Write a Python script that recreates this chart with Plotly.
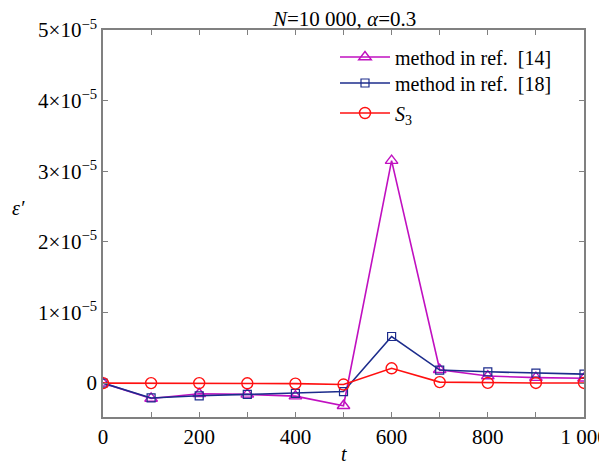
import plotly.graph_objects as go

t = [0, 100, 200, 300, 400, 500, 600, 700, 800, 900, 1000]
ref14 = [0.0, -0.217, -0.15, -0.16, -0.185, -0.32, 3.15, 0.19, 0.10, 0.077, 0.068]
ref18 = [0.0, -0.21, -0.18, -0.16, -0.145, -0.12, 0.66, 0.185, 0.16, 0.14, 0.127]
s3 = [0.0, 0.0, 0.0, -0.003, -0.008, -0.02, 0.21, 0.014, 0.003, 0.002, 0.002]
scale = 1e-5

x_tickvals = [0, 100, 200, 300, 400, 500, 600, 700, 800, 900, 1000]
x_ticktext = ["0", "", "200", "", "400", "", "600", "", "800", "", "1 000"]
y_tickvals = [0, 1e-5, 2e-5, 3e-5, 4e-5, 5e-5]
y_ticktext = ["0", "1×10<sup>−5</sup>", "2×10<sup>−5</sup>", "3×10<sup>−5</sup>",
              "4×10<sup>−5</sup>", "5×10<sup>−5</sup>"]

font = "Liberation Serif"

# page body has an 8px default margin; plot area targeted at screen x 103..584, y 30..417
PAD = 8
W, H = 607 - PAD, 464 - PAD
ML, MR, MT, MB = 103 - PAD, 23, 30 - PAD, 47
plot_w = W - ML - MR
plot_h = H - MT - MB


def px(sx):
    return (sx - 103) / plot_w


def py(sy):
    return (417 - sy) / plot_h


fig = go.Figure()
fig.add_trace(go.Scatter(x=t, y=[v * scale for v in ref14], mode="lines+markers",
                         name="method in ref.  [14]", legend="legend",
                         line=dict(color="#C010C0", width=1.6),
                         marker=dict(symbol="triangle-up-open", size=11, color="#C010C0",
                                     line=dict(width=1.4))))
fig.add_trace(go.Scatter(x=t, y=[v * scale for v in ref18], mode="lines+markers",
                         name="method in ref.  [18]", legend="legend2",
                         line=dict(color="#1C2C8C", width=1.6),
                         marker=dict(symbol="square-open", size=8, color="#1C2C8C",
                                     line=dict(width=1.2))))
fig.add_trace(go.Scatter(x=t, y=[v * scale for v in s3], mode="lines+markers",
                         name="<i>S</i><sub>3</sub>", legend="legend3",
                         line=dict(color="#FF1010", width=1.6),
                         marker=dict(symbol="circle-open", size=11, color="#FF1010",
                                     line=dict(width=1.4))))

axis_common = dict(showline=True, linecolor="#808080", linewidth=1.5, mirror="ticks",
                   ticks="inside", ticklen=5, tickcolor="#808080", showgrid=False,
                   zeroline=False, automargin=False, ticklabeloverflow="allow",
                   tickfont=dict(family=font, size=21, color="black"))
fig.update_xaxes(range=[0, 1000], tickvals=x_tickvals, ticktext=x_ticktext, **axis_common)
fig.update_yaxes(range=[-0.48e-5, 5e-5], tickvals=y_tickvals, ticktext=y_ticktext, **axis_common)

leg_common = dict(xanchor="left", yanchor="middle", bgcolor="rgba(0,0,0,0)",
                  itemwidth=50, font=dict(family=font, size=20))

fig.update_layout(
    width=W, height=H,
    margin=dict(l=ML, r=MR, t=MT, b=MB, autoexpand=False),
    paper_bgcolor="white", plot_bgcolor="white",
    font=dict(family=font, size=21, color="black"),
    showlegend=True,
    legend=dict(x=px(335), y=py(57), **leg_common),
    legend2=dict(x=px(335), y=py(83), **leg_common),
    legend3=dict(x=px(335), y=py(113), **leg_common),
    annotations=[
        dict(text="<i>N</i>=10 000, <i>α</i>=0.3", x=0.5, y=1.0, xref="paper", yref="paper",
             xanchor="center", yanchor="bottom", yshift=-3, showarrow=False,
             font=dict(family=font, size=21)),
        dict(text="<i>ε′</i>", x=px(18), y=py(208),
             xref="paper", yref="paper", xanchor="center", yanchor="middle",
             showarrow=False, font=dict(family=font, size=20)),
        dict(text="<i>t</i>", x=0.5, y=0, xref="paper", yref="paper", yanchor="top",
             yshift=-24, showarrow=False, font=dict(family=font, size=20)),
    ],
)

fig.write_html("out.html")
